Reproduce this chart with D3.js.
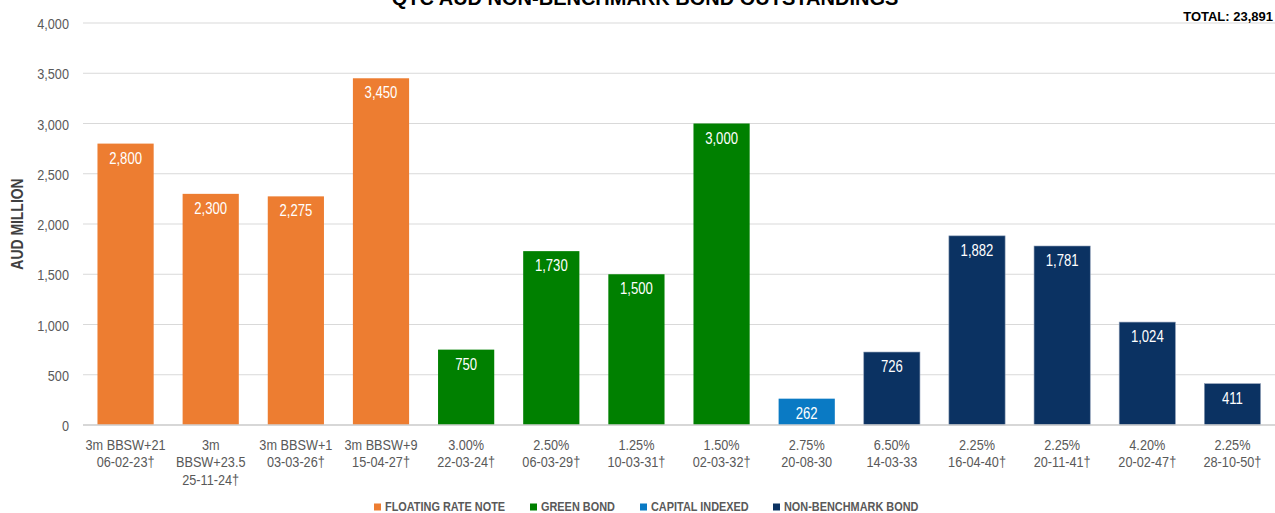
<!DOCTYPE html>
<html>
<head>
<meta charset="utf-8">
<script src="https://cdn.jsdelivr.net/npm/d3@7"></script>
<style>
  body { margin: 0; background: #fff; }
  text { font-family: "Liberation Sans", Arial, sans-serif; }
</style>
</head>
<body>
<div id="chart"></div>
<script>
// chart data
const categories = [
  ["3m BBSW+21", "06-02-23†"],
  ["3m", "BBSW+23.5", "25-11-24†"],
  ["3m BBSW+1", "03-03-26†"],
  ["3m BBSW+9", "15-04-27†"],
  ["3.00%", "22-03-24†"],
  ["2.50%", "06-03-29†"],
  ["1.25%", "10-03-31†"],
  ["1.50%", "02-03-32†"],
  ["2.75%", "20-08-30"],
  ["6.50%", "14-03-33"],
  ["2.25%", "16-04-40†"],
  ["2.25%", "20-11-41†"],
  ["4.20%", "20-02-47†"],
  ["2.25%", "28-10-50†"]
];
const values = [2800, 2300, 2275, 3450, 750, 1730, 1500, 3000, 262, 726, 1882, 1781, 1024, 411];
const bondTypes = ["frn", "frn", "frn", "frn", "green", "green", "green", "green", "cib", "nbb", "nbb", "nbb", "nbb", "nbb"];
const seriesNames = ["FLOATING RATE NOTE", "GREEN BOND", "CAPITAL INDEXED", "NON-BENCHMARK BOND"];
const seriesKeys = ["frn", "green", "cib", "nbb"];
const seriesColors = ["#ED7D31", "#008000", "#0A7AC4", "#0B3262"];
const yTicks = [0, 500, 1000, 1500, 2000, 2500, 3000, 3500, 4000];
const total = 23891;

const svgWidth = 1275;
const svgHeight = 513;
const margin = { top: 23, right: 0, bottom: 88, left: 83 };
const width = svgWidth - margin.left - margin.right;
const height = svgHeight - margin.top - margin.bottom;

// no narrow font installed, so squeeze the text horizontally
const squeeze = 0.82;

const svg = d3.select("#chart")
  .append("svg")
  .attr("width", svgWidth)
  .attr("height", svgHeight);

const chartGroup = svg.append("g")
  .attr("transform", `translate(${margin.left},${margin.top})`);

const color = d3.scaleOrdinal().domain(seriesKeys).range(seriesColors);
const fmt = d3.format(",");

const xScale = d3.scaleBand()
  .domain(d3.range(categories.length))
  .range([0, width])
  .paddingInner(0.34)
  .paddingOuter(0.17);

const yScale = d3.scaleLinear()
  .domain([0, 4000])
  .range([height, 0]);

// gridlines
chartGroup.append("g")
  .selectAll("line")
  .data(yTicks)
  .enter()
  .append("line")
  .attr("x1", 0)
  .attr("x2", width)
  .attr("y1", d => yScale(d))
  .attr("y2", d => yScale(d))
  .attr("stroke", "#d9d9d9")
  .attr("stroke-width", 1);

// y axis labels
const leftAxis = d3.axisLeft(yScale).tickValues(yTicks).tickFormat(fmt).tickSize(0).tickPadding(0);
const yAxis = chartGroup.append("g").call(leftAxis);
yAxis.select(".domain").remove();
yAxis.selectAll(".tick text")
  .attr("x", null)
  .attr("dy", "0.36em")
  .attr("fill", "#595959")
  .attr("font-size", "15.5px")
  .attr("transform", `translate(-14,0) scale(${squeeze},1)`);

// bars
chartGroup.selectAll(".bar")
  .data(values)
  .enter()
  .append("rect")
  .attr("class", "bar")
  .attr("x", (d, i) => xScale(i))
  .attr("y", d => yScale(d))
  .attr("width", xScale.bandwidth())
  .attr("height", d => height - yScale(d))
  .attr("fill", (d, i) => color(bondTypes[i]))
  .attr("stroke", (d, i) => bondTypes[i] === "nbb" ? "#8b9bb4" : "none")
  .attr("stroke-width", 0.6);

// value labels
chartGroup.selectAll(".val")
  .data(values)
  .enter()
  .append("text")
  .attr("text-anchor", "middle")
  .attr("fill", "#ffffff")
  .attr("font-size", "16px")
  .attr("transform", (d, i) => `translate(${xScale(i) + xScale.bandwidth() / 2},${yScale(d) + 20}) scale(${squeeze},1)`)
  .text(d => fmt(d));

// baseline
chartGroup.append("line")
  .attr("x1", 0)
  .attr("x2", width)
  .attr("y1", height)
  .attr("y2", height)
  .attr("stroke", "#d0d0d0")
  .attr("stroke-width", 1.5);

// x labels
const xLabels = chartGroup.selectAll(".xlab")
  .data(categories)
  .enter()
  .append("text")
  .attr("text-anchor", "middle")
  .attr("fill", "#595959")
  .attr("font-size", "15.5px")
  .attr("transform", (d, i) => `translate(${xScale(i) + xScale.bandwidth() / 2},${height + 25}) scale(${squeeze},1)`);
xLabels.selectAll("tspan")
  .data(d => d)
  .enter()
  .append("tspan")
  .attr("x", 0)
  .attr("dy", (d, i) => i === 0 ? 0 : 17.5)
  .text(d => d);

// y axis title
svg.append("text")
  .attr("transform", `translate(23,${margin.top + yScale(2000)}) rotate(-90) scale(${squeeze},1)`)
  .attr("text-anchor", "middle")
  .attr("font-weight", "bold")
  .attr("font-size", "17px")
  .attr("fill", "#404040")
  .text("AUD MILLION");

// title (cut off at the top)
svg.append("text")
  .attr("x", 645)
  .attr("y", 5)
  .attr("text-anchor", "middle")
  .attr("font-weight", "bold")
  .attr("font-size", "20px")
  .attr("fill", "#000")
  .text("QTC AUD NON-BENCHMARK BOND OUTSTANDINGS");

// total
svg.append("text")
  .attr("x", 1273)
  .attr("y", 20.5)
  .attr("text-anchor", "end")
  .attr("font-weight", "bold")
  .attr("font-size", "13px")
  .attr("fill", "#000")
  .text(`TOTAL: ${fmt(total)}`);

// legend
const legendX = [374, 530, 640, 773];
const legend = svg.append("g")
  .selectAll("g")
  .data(seriesKeys)
  .enter()
  .append("g")
  .attr("transform", (d, i) => `translate(${legendX[i]},503.5)`);
legend.append("rect")
  .attr("width", 7)
  .attr("height", 7)
  .attr("fill", d => color(d));
legend.append("text")
  .attr("transform", `translate(11,7.5) scale(${squeeze},1)`)
  .attr("font-weight", "bold")
  .attr("font-size", "13.3px")
  .attr("fill", "#595959")
  .text((d, i) => seriesNames[i]);
</script>
</body>
</html>
